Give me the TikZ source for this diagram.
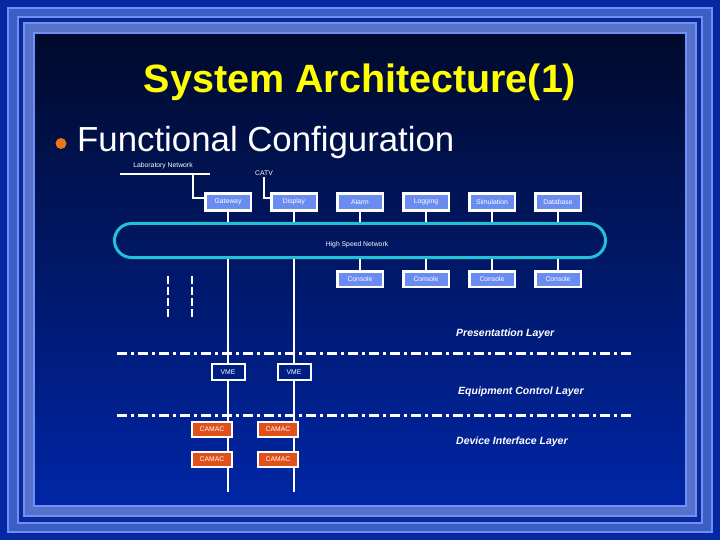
\documentclass[tikz,border=0pt]{standalone}
\usepackage{fontspec}
\setmainfont{Liberation Sans}
\usetikzlibrary{positioning}
\definecolor{slideBg}{HTML}{0628A0}
\definecolor{frameLine}{HTML}{7090F8}
\definecolor{frameOuter}{HTML}{3C5EC4}
\definecolor{frameGap}{HTML}{0A2A98}
\definecolor{frameInner}{HTML}{5572C8}
\definecolor{panelTop}{HTML}{000A2C}
\definecolor{panelBottom}{HTML}{0026A6}
\definecolor{titleYellow}{HTML}{FFFF00}
\definecolor{bulletOrange}{HTML}{E8761E}
\definecolor{unitBlue}{HTML}{6A8CF0}
\definecolor{ringCyan}{HTML}{22C2D6}
\definecolor{camacRed}{HTML}{E0501A}
\definecolor{vmeFill}{HTML}{001E84}
\tikzset{
  wire/.style={draw=white, line width=2pt},
  unitbox/.style={
    draw=white, line width=2.5pt, fill=unitBlue, text=white,
    font=\fontsize{6.8}{8}\selectfont, minimum width=45.5pt, minimum height=17pt,
    inner sep=0pt
  },
  vmebox/.style={unitbox, fill=vmeFill, line width=2pt, minimum width=33pt, minimum height=16pt},
  camacbox/.style={unitbox, fill=camacRed, line width=2pt, minimum width=40pt, minimum height=15pt},
  netring/.style={
    draw=ringCyan, line width=3pt, rounded corners=17pt,
    minimum width=491pt, minimum height=34pt, inner sep=0pt
  },
  tag/.style={text=white, font=\fontsize{6.8}{8}\selectfont, inner sep=1pt},
  layertag/.style={text=white, font=\fontsize{10.5}{12}\selectfont\bfseries\itshape, anchor=west, inner sep=0pt},
  layerline/.style={white, line width=3pt, dash pattern=on 10pt off 4pt on 3pt off 4pt},
  stubline/.style={wire, dash pattern=on 8pt off 3pt},
  frame/.style={draw=frameLine, line width=1.5pt}
}
\begin{document}
\begin{tikzpicture}[x=1pt, y=-1pt, node distance=18pt]
  \useasboundingbox (0,0) rectangle (720,540);
  % slide background and frame
  \fill[slideBg] (0,0) rectangle (720,540);
  \filldraw[frame, fill=frameOuter] (8,8) rectangle (712,532);
  \filldraw[frame, fill=frameGap] (18,17) rectangle (702,523);
  \filldraw[frame, fill=frameInner] (24,23) rectangle (696,516);
  \shade[top color=panelTop, bottom color=panelBottom] (34,33) rectangle (686,506);
  \draw[frame] (34,33) rectangle (686,506);

  % headings
  \node[text=titleYellow, font=\bfseries\fontsize{39.5}{42}\selectfont,
    anchor=base, inner sep=0pt] (title) at (360,93) {System Architecture(1)};
  \node[circle, fill=bulletOrange, minimum size=11pt, inner sep=0pt] (bullet) at (61,143.5) {};
  \node[text=white, font=\fontsize{34.8}{38}\selectfont,
    anchor=base west, inner sep=0pt] (heading) at (77,152) {Functional Configuration};

  % outside links
  \node[tag] (labtag) at (163,166) {Laboratory Network};
  \coordinate (labW) at (120,174);
  \coordinate (labE) at (210,174);
  \coordinate (labdrop) at (193,174);
  \node[tag] (catvtag) at (264,173) {CATV};

  % servers
  \node[unitbox] (gw) at (228,202) {Gateway};
  \node[unitbox, right=of gw] (disp) {Display};
  \node[unitbox, right=of disp] (alarm) {Alarm};
  \node[unitbox, right=of alarm] (logging) {Logging};
  \node[unitbox, right=of logging] (sim) {Simulation};
  \node[unitbox, right=of sim] (db) {Database};

  % network ring
  \node[netring] (hsn) at (360,240.5) {};
  \node[tag] (hsntag) at (357,245) {High Speed Network};

  % consoles
  \node[unitbox, minimum height=15.5pt] (con1) at (360,279) {Console};
  \node[unitbox, minimum height=15.5pt, right=of con1] (con2) {Console};
  \node[unitbox, minimum height=15.5pt, right=of con2] (con3) {Console};
  \node[unitbox, minimum height=15.5pt, right=of con3] (con4) {Console};

  % equipment control
  \node[vmebox] (vme1) at (228,372) {VME};
  \node[vmebox] (vme2) at (294,372) {VME};
  \coordinate (vme1end) at (228,492);
  \coordinate (vme2end) at (294,492);

  % layers
  \coordinate (presW) at (117,353);
  \coordinate (presE) at (632,353);
  \coordinate (ctrlW) at (117,415);
  \coordinate (ctrlE) at (632,415);
  \draw[layerline] (presW) -- (presE);
  \draw[layerline] (ctrlW) -- (ctrlE);
  \node[layertag] (prestag) at (456,334) {Presentattion Layer};
  \node[layertag] (ctrltag) at (458,392) {Equipment Control Layer};
  \node[layertag] (devtag) at (456,442) {Device Interface Layer};

  % dashed stubs
  \coordinate (stubAtop) at (168,276);
  \coordinate (stubAbot) at (168,317);
  \coordinate (stubBtop) at (192,276);
  \coordinate (stubBbot) at (192,317);
  \draw[stubline] (stubAtop) -- (stubAbot);
  \draw[stubline] (stubBtop) -- (stubBbot);

  % wiring
  \draw[wire] (labW) -- (labE);
  \draw[wire] (labdrop) |- ([yshift=4pt]gw.west);
  \draw[wire] (catvtag.south) |- ([yshift=4pt]disp.west);
  \draw[wire] (gw.south) -- (gw.south |- hsn.north);
  \draw[wire] (disp.south) -- (disp.south |- hsn.north);
  \draw[wire] (alarm.south) -- (alarm.south |- hsn.north);
  \draw[wire] (logging.south) -- (logging.south |- hsn.north);
  \draw[wire] (sim.south) -- (sim.south |- hsn.north);
  \draw[wire] (db.south) -- (db.south |- hsn.north);
  \draw[wire] (hsn.south -| con1.north) -- (con1.north);
  \draw[wire] (hsn.south -| con2.north) -- (con2.north);
  \draw[wire] (hsn.south -| con3.north) -- (con3.north);
  \draw[wire] (hsn.south -| con4.north) -- (con4.north);
  \draw[wire] (hsn.south -| vme1.north) -- (vme1.north);
  \draw[wire] (hsn.south -| vme2.north) -- (vme2.north);
  \draw[wire] (vme1.south) -- (vme1end);
  \draw[wire] (vme2.south) -- (vme2end);

  % device interface
  \node[camacbox] (cam1) at (212,429.5) {CAMAC};
  \node[camacbox] (cam2) at (212,459.5) {CAMAC};
  \node[camacbox] (cam3) at (278,429.5) {CAMAC};
  \node[camacbox] (cam4) at (278,459.5) {CAMAC};
\end{tikzpicture}
\end{document}
